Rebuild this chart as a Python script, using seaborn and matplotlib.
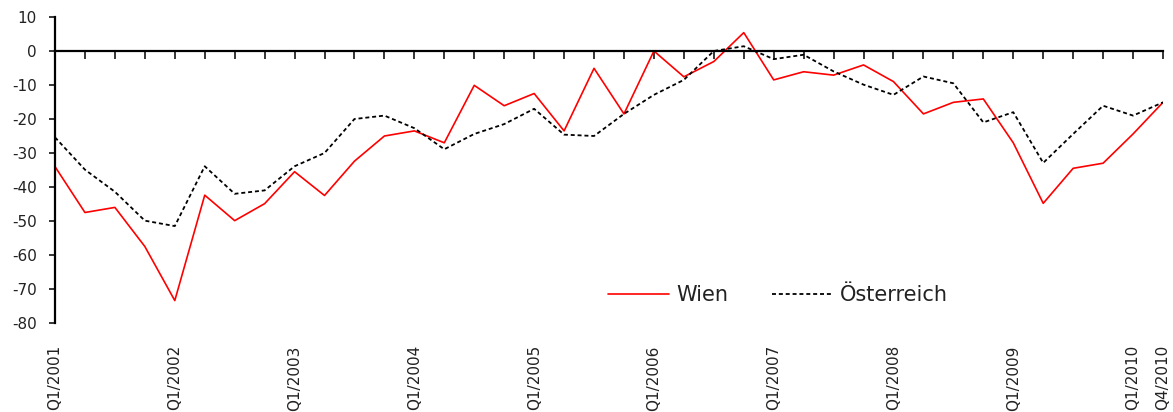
import matplotlib
matplotlib.use("Agg")
import matplotlib.pyplot as plt
import seaborn as sns
import pandas as pd
import numpy as np

quarters = [
    "Q1/2001", "Q2/2001", "Q3/2001", "Q4/2001",
    "Q1/2002", "Q2/2002", "Q3/2002", "Q4/2002",
    "Q1/2003", "Q2/2003", "Q3/2003", "Q4/2003",
    "Q1/2004", "Q2/2004", "Q3/2004", "Q4/2004",
    "Q1/2005", "Q2/2005", "Q3/2005", "Q4/2005",
    "Q1/2006", "Q2/2006", "Q3/2006", "Q4/2006",
    "Q1/2007", "Q2/2007", "Q3/2007", "Q4/2007",
    "Q1/2008", "Q2/2008", "Q3/2008", "Q4/2008",
    "Q1/2009", "Q2/2009", "Q3/2009", "Q4/2009",
    "Q1/2010", "Q4/2010",
]
labelled = ["Q1/2001", "Q1/2002", "Q1/2003", "Q1/2004", "Q1/2005", "Q1/2006",
            "Q1/2007", "Q1/2008", "Q1/2009", "Q1/2010", "Q4/2010"]

wien = [-34, -47.5, -46, -57.5, -73.4, -42.4, -49.9, -44.9, -35.5, -42.5,
        -32.4, -25, -23.5, -27, -10.1, -16.1, -12.5, -23.5, -5.1, -18.5,
        0, -7.6, -3.1, 5.4, -8.5, -6.1, -7.1, -4.1, -9, -18.5,
        -15.1, -14.1, -27, -44.8, -34.5, -33, -24.4, -15.1]
oesterreich = [-25.4, -34.9, -41.4, -49.9, -51.5, -33.9, -42, -41, -33.9, -30,
               -20, -19, -22.7, -28.9, -24.4, -21.5, -17, -24.6, -25, -18.5,
               -12.9, -8.5, 0, 1.4, -2.4, -1.1, -6, -9.9, -12.9, -7.5,
               -9.5, -21, -18, -32.9, -24.4, -16.1, -19, -15.1]

y_ticks = [10, 0, -10, -20, -30, -40, -50, -60, -70, -80]

sns.set_style("white")
plt.rcParams["font.family"] = ["DejaVu Sans"]

df = pd.DataFrame({"idx": range(len(quarters)), "quarter": quarters,
                   "Wien": wien, "Österreich": oesterreich})

fig = plt.figure(figsize=(11.73, 4.12), dpi=100)
ax = fig.add_axes([55 / 1173, 1 - 323 / 412, (1163 - 55) / 1173, (323 - 17) / 412])

sns.lineplot(data=df, x="idx", y="Wien", ax=ax, color="#ff0000", lw=1.2, label="Wien")
sns.lineplot(data=df, x="idx", y="Österreich", ax=ax, color="black", lw=1.3,
             label="Österreich", dashes=False)
ax.lines[1].set_dashes((2.2, 1.6))

ax.set_xlim(0, len(quarters) - 1)
ax.set_ylim(-80, 10)
ax.set_xlabel("")
ax.set_ylabel("")

for s in ["top", "right"]:
    ax.spines[s].set_visible(False)
ax.spines["left"].set_linewidth(1.6)
ax.spines["left"].set_color("black")
ax.spines["bottom"].set_position(("data", 0))
ax.spines["bottom"].set_linewidth(1.6)
ax.spines["bottom"].set_color("black")
ax.set_zorder(1)

ax.set_yticks(y_ticks)
ax.set_yticklabels([str(v) for v in y_ticks])
ax.tick_params(axis="y", direction="out", length=4, width=1.3, left=True,
               labelsize=11, labelcolor="#222222", pad=9)

ax.set_xticks(df["idx"])
ax.tick_params(axis="x", direction="out", length=6, width=1.3, bottom=True,
               labelbottom=False)

sec = ax.secondary_xaxis("bottom")
pos = [quarters.index(q) for q in labelled]
sec.set_xticks(pos)
sec.set_xticklabels(labelled, rotation=90, va="top", ha="center")
sec.tick_params(axis="x", length=0, pad=16, labelsize=11, labelcolor="#222222")
sec.spines["bottom"].set_visible(False)

ax.legend(loc="center", bbox_to_anchor=(778 / 1173, 1 - 295 / 412),
          bbox_transform=fig.transFigure, ncol=2, frameon=False, fontsize=15,
          handlelength=2.9, handletextpad=0.35, columnspacing=2.1)
for t in ax.get_legend().get_texts():
    t.set_color("#222222")

fig.savefig("out.png", dpi=100)
